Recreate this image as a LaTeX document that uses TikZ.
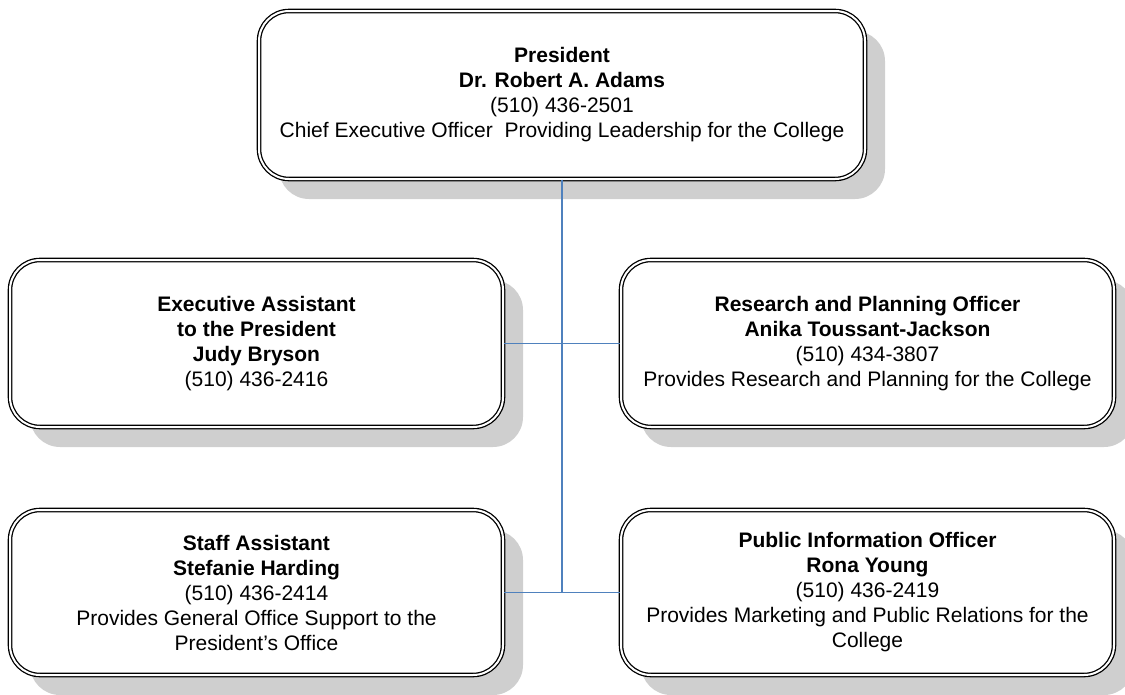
\documentclass[tikz,border=0pt]{standalone}
\usepackage{fontspec}
\setmainfont{Liberation Sans}
\usetikzlibrary{shadows}
\definecolor{linkblue}{HTML}{4F81BD}
\definecolor{shadowgray}{HTML}{CFCFCF}
\tikzset{
  orgbox/.style={draw=black, line width=1.3pt, double=white, double distance=2pt,
    rounded corners=30pt, fill=white, align=center, inner sep=0pt,
    font=\fontsize{21}{25}\selectfont,
    drop shadow={shadow xshift=20pt, shadow yshift=-20pt, fill=shadowgray, opacity=1}},
  link/.style={draw=linkblue, line width=1.7pt}
}
\begin{document}
\begin{tikzpicture}[x=1pt,y=-1pt]
\useasboundingbox (0,0) rectangle (1125,694);
\node[orgbox, minimum width=606pt, minimum height=168pt] (pres) at (562,95)
  {\textbf{President}\\\textbf{Dr. Robert A. Adams}\\(510) 436-2501\\Chief Executive Officer\ \ Providing Leadership for the College};
\node[orgbox, minimum width=493pt, minimum height=167pt] (exa) at (256.5,343.5)
  {\textbf{Executive Assistant}\\\textbf{to the President}\\\textbf{Judy Bryson}\\(510) 436-2416};
\node[orgbox, minimum width=493pt, minimum height=167pt] (rpo) at (867.5,343.5)
  {\textbf{Research and Planning Officer}\\\textbf{Anika Toussant-Jackson}\\(510) 434-3807\\Provides Research and Planning for the College};
\node[orgbox, minimum width=493pt, minimum height=165pt] (sa) at (256.5,592.5)
  {\textbf{Staff Assistant}\\\textbf{Stefanie Harding}\\(510) 436-2414\\Provides General Office Support to the\\President’s Office};
\node[orgbox, minimum width=493pt, minimum height=165pt] (pio) at (867.5,592.5)
  {\textbf{Public Information Officer}\\\textbf{Rona Young}\\(510) 436-2419\\Provides Marketing and Public Relations for the\\College};
\coordinate (j2) at (562,592);
\draw[link] (pres.south) -- (j2);
\draw[link] (exa.east) -- (rpo.west);
\draw[link] (sa.east) -- (pio.west);
\end{tikzpicture}
\end{document}
